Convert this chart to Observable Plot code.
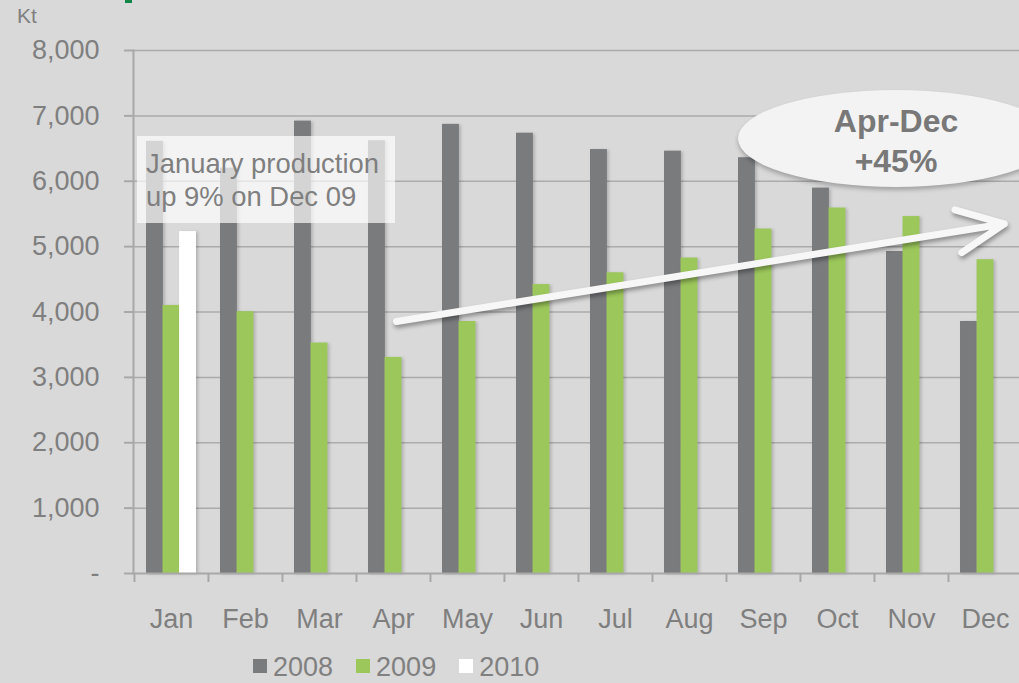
<!DOCTYPE html>
<html><head><meta charset="utf-8">
<script src="https://cdn.jsdelivr.net/npm/d3@7"></script>
<script src="https://cdn.jsdelivr.net/npm/@observablehq/plot@0.6"></script>
<style>
body{margin:0;background:#d9d9d9;overflow:hidden;font-family:"Liberation Sans",Arial,sans-serif;}
#wrap{position:relative;width:1019px;height:683px;overflow:hidden;}
#chart svg{display:block;}
#chart g[aria-label="bar"]{filter:drop-shadow(2px 1px 1.5px rgba(0,0,0,0.18));}
#chart g[aria-label="arrow"]{filter:drop-shadow(1px 3px 2px rgba(0,0,0,0.35));}
.unit{position:absolute;left:17px;top:5px;font-size:21px;line-height:21px;color:#808080;}
.frag{position:absolute;left:125px;top:0;width:7px;height:3px;background:#12864a;}
.note{position:absolute;left:137px;top:136px;width:258px;height:87px;background:rgba(255,255,255,0.68);box-sizing:border-box;padding:11px 0 0 9px;font-size:27.4px;line-height:33px;color:#7f7f7f;white-space:nowrap;}
.bubble{position:absolute;left:738px;top:90px;width:316px;height:97px;border-radius:50%;background:#f3f3f3;box-shadow:0 3px 4px rgba(0,0,0,0.25);box-sizing:border-box;padding-top:11px;text-align:center;font-size:32px;font-weight:bold;line-height:40px;color:#787878;}
.legend{position:absolute;left:253px;top:652px;display:flex;align-items:center;font-size:27px;line-height:30px;color:#808080;}
.legend .sw{display:inline-block;width:14px;height:14px;margin-right:6px;margin-top:-2px;}
.legend .it{display:flex;align-items:center;margin-right:23px;}
</style></head><body>
<div id="wrap">
<div id="chart"></div>
<div class="frag"></div>
<div class="unit" id="unit"></div>
<div class="note" id="note"></div>
<div class="bubble" id="bubble"></div>
<div class="legend" id="legend"></div>
</div>
<script>
const months = ["Jan","Feb","Mar","Apr","May","Jun","Jul","Aug","Sep","Oct","Nov","Dec"];
const values2008 = [6610, 6200, 6920, 6620, 6870, 6735, 6485, 6460, 6360, 5895, 4925, 3855];
const values2009 = [4100, 4005, 3525, 3305, 3855, 4420, 4600, 4825, 5270, 5590, 5460, 4800];
const values2010 = [5230];
const years = ["2008", "2009", "2010"];
const colors = ["#7a7b7d", "#9cc75b", "#ffffff"];
const yTicks = [0, 1000, 2000, 3000, 4000, 5000, 6000, 7000, 8000];
const unitLabel = "Kt";
const noteLines = ["January production", "up 9% on Dec 09"];
const bubbleLines = ["Apr-Dec", "+45%"];
const trendArrow = [{from: "Apr", fromValue: 3855, to: "Dec", toValue: 5310}];

const series = [values2008, values2009, values2010];
const rows = series.map(vals => vals.map((v, i) => ({month: months[i], value: v})));

const range = [133, 1022];
const step = (range[1] - range[0]) / months.length;
const padInner = 0.33;
const bw = step * (1 - padInner);

const barMarks = rows.map((data, k) => Plot.barY(data, {
  x: "month", y: "value", fill: colors[k],
  insetLeft: k * bw / 3, insetRight: (2 - k) * bw / 3
}));

const chart = Plot.plot({
  width: 1019, height: 683,
  marginTop: 50, marginBottom: 110, marginLeft: 133, marginRight: 0,
  style: {background: "transparent", fontFamily: "'Liberation Sans', Arial, sans-serif", fontSize: "27px", color: "#7f7f7f"},
  x: {domain: months, range, paddingInner: padInner, paddingOuter: padInner / 2, align: 0.5},
  y: {domain: [0, 8000]},
  marks: [
    Plot.gridY(yTicks.slice(1), {stroke: "#ababab", strokeOpacity: 1, strokeWidth: 1.5}),
    ...barMarks,
    Plot.ruleY([0], {stroke: "#a8a8a8", strokeWidth: 2}),
    Plot.frame({anchor: "left", stroke: "#a8a8a8", strokeWidth: 2}),
    Plot.axisY({ticks: yTicks, tickSize: 9, tickPadding: 25, stroke: "#a8a8a8", strokeWidth: 2,
      tickFormat: d => d === 0 ? "-" : d3.format(",")(d), fill: "#7f7f7f", fontSize: 27, label: null}),
    Plot.axisX({tickSize: 9, tickFormat: () => "", dx: -step / 2, stroke: "#a8a8a8", strokeWidth: 2, label: null}),
    Plot.axisX({tickSize: 0, tickPadding: 35, fill: "#7f7f7f", fontSize: 27, label: null}),
    Plot.arrow(trendArrow, {x1: "from", y1: "fromValue", x2: "to", y2: "toValue",
      stroke: "#f7f7f7", strokeWidth: 7, headLength: 11, headAngle: 50, insetEnd: -16, dx: 3, strokeLinecap: "round"})
  ]
});
document.getElementById("chart").appendChild(chart);

document.getElementById("unit").textContent = unitLabel;
document.getElementById("note").innerHTML = noteLines.map(s => `<div>${s}</div>`).join("");
document.getElementById("bubble").innerHTML = bubbleLines.map(s => `<div>${s}</div>`).join("");
document.getElementById("legend").innerHTML = years.map((y, k) =>
  `<span class="it"><span class="sw" style="background:${colors[k]}"></span>${y}</span>`).join("");
</script>
</body></html>
